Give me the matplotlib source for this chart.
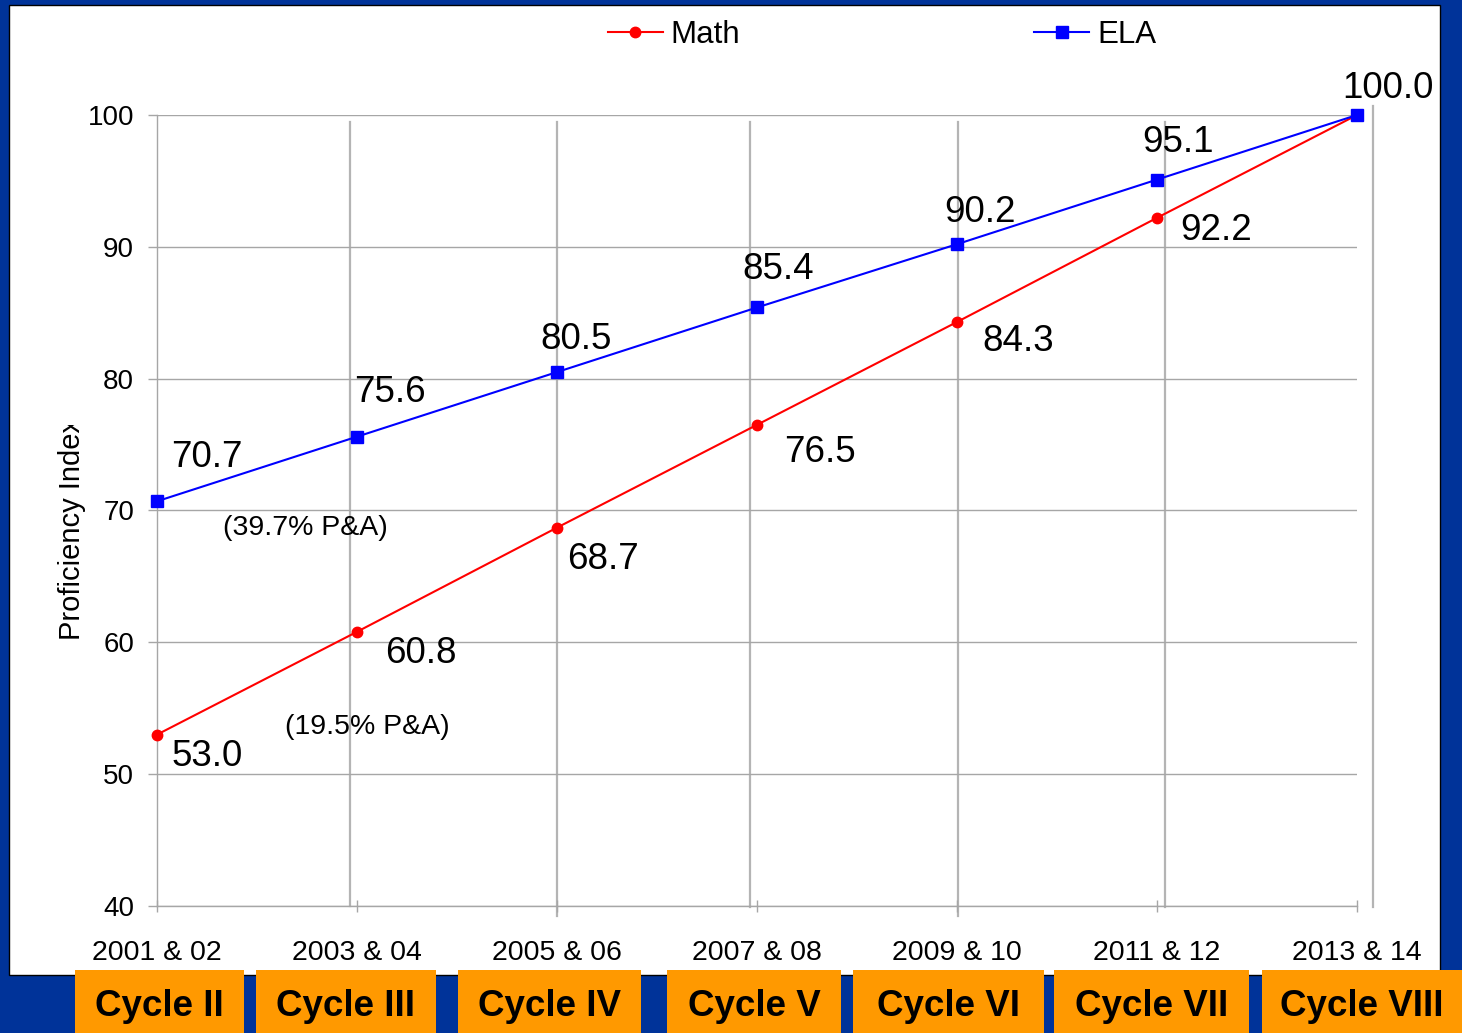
#!/bin/python3
# -*- coding: utf-8 -*-
"""
Proficiency index targets, Math vs ELA, by testing cycle.
"""

#################################################
#     Libraries
#################################################
import matplotlib
matplotlib.use( "Agg" )
import matplotlib.pyplot as plt
from matplotlib.patches import Rectangle
from matplotlib.lines import Line2D
from matplotlib.transforms import Bbox, TransformedBbox

#################################################
#     Data
#################################################
years = [ "2001 & 02", "2003 & 04", "2005 & 06", "2007 & 08", "2009 & 10", "2011 & 12", "2013 & 14" ]
cycles = [ "Cycle II", "Cycle III", "Cycle IV", "Cycle V", "Cycle VI", "Cycle VII", "Cycle VIII" ]
math_values = [ 53.0, 60.8, 68.7, 76.5, 84.3, 92.2, 100.0 ]
ela_values = [ 70.7, 75.6, 80.5, 85.4, 90.2, 95.1, 100.0 ]
math_note = "(19.5% P&A)"
ela_note = "(39.7% P&A)"

#################################################
#     Style
#################################################
W, H = 1462, 1033
BLUE_BG = "#003399"
ORANGE = "#FF9900"
GRID = "#A6A6A6"
plt.rcParams[ "font.family" ] = [ "Liberation Sans", "DejaVu Sans" ]

# label offsets in pixels ( dx, dy ) relative to each point
ela_offsets = [ ( 50, 44 ), ( 33, 44 ), ( 19, 33 ), ( 21, 38 ), ( 23, 32 ), ( 21, 37 ), ( 31, 27 ) ]
math_offsets = [ ( 50, -22 ), ( 64, -22 ), ( 46, -32 ), ( 63, -28 ), ( 61, -20 ), ( 59, -13 ) ]

def fx( px ):
    return px / W

def fy( py ):
    return 1 - py / H

#################################################
#     Figure and background
#################################################
fig = plt.figure( figsize = ( W / 100, H / 100 ), dpi = 100, facecolor = BLUE_BG )
fig.patches.append( Rectangle( ( fx( 9 ), fy( 975 ) ), fx( 1440 - 9 ), ( 975 - 5 ) / H,
                               transform = fig.transFigure, facecolor = "white",
                               edgecolor = "black", linewidth = 1, zorder = -2 ) )

ax = fig.add_axes( [ fx( 157 ), fy( 906 ), fx( 1200 ), 791 / H ] )
ax.set_facecolor( "none" )

x = list( range( len( years ) ) )
ax.plot( x, math_values, "-o", color = "red", lw = 1.5, markersize = 7.5, label = "Math", zorder = 3, clip_on = False )
ax.plot( x, ela_values, "-s", color = "blue", lw = 1.5, markersize = 8, label = "ELA", zorder = 4, clip_on = False )

ax.set_xlim( 0, len( years ) - 1 )
ax.set_ylim( 40, 100 )
ax.set_yticks( range( 40, 101, 10 ) )
ax.set_xticks( x )
ax.set_xticklabels( years )
ax.grid( axis = "y", color = GRID, lw = 1 )
ax.set_axisbelow( True )

for side in [ "top", "right" ]:
    ax.spines[ side ].set_visible( False )
for side in [ "left", "bottom" ]:
    ax.spines[ side ].set_color( GRID )
    ax.spines[ side ].set_linewidth( 1 )

ax.tick_params( axis = "y", colors = GRID, labelcolor = "black", labelsize = 20, length = 6.5, width = 1, pad = 10 )
ax.tick_params( axis = "x", colors = GRID, labelcolor = "black", labelsize = 20.5, length = 8.5, width = 1,
                direction = "inout", pad = 20 )

# data labels
for i, ( v, off ) in enumerate( zip( ela_values, ela_offsets ) ):
    ax.annotate( "{:.1f}".format( v ), ( i, v ), xytext = off, textcoords = "offset pixels",
                 ha = "center", va = "center", fontsize = 26.5, zorder = 5 )
for i, ( v, off ) in enumerate( zip( math_values[ :-1 ], math_offsets ) ):
    ax.annotate( "{:.1f}".format( v ), ( i, v ), xytext = off, textcoords = "offset pixels",
                 ha = "center", va = "center", fontsize = 26.5, zorder = 5 )

fig.text( fx( 305 ), fy( 528 ), ela_note, ha = "center", va = "center", fontsize = 20.5 )
fig.text( fx( 367 ), fy( 727 ), math_note, ha = "center", va = "center", fontsize = 20.5 )

# y label, cut off at the top as in the slide
ylab = fig.text( fx( 72 ), fy( 529 ), "Proficiency Index", rotation = 90, ha = "center", va = "center", fontsize = 21 )
ylab.set_clip_box( TransformedBbox( Bbox( [ [ 0, 0 ], [ 1, fy( 425 ) ] ] ), fig.transFigure ) )
ylab.set_clip_on( True )

# hand drawn vertical guide lines
for xp, y0, y1 in [ ( 350, 122, 906 ), ( 557, 122, 916 ), ( 750, 122, 907 ), ( 958, 122, 916 ), ( 1165, 122, 907 ), ( 1373, 106, 907 ) ]:
    fig.add_artist( Line2D( [ fx( xp ), fx( xp ) ], [ fy( y0 ), fy( y1 ) ], transform = fig.transFigure,
                            color = "#B4B4B4", lw = 1.6, zorder = -1 ) )

# legend
fig.legend( loc = "center left", bbox_to_anchor = ( fx( 608 ), fy( 35 ) ), ncol = 2, frameon = False,
            fontsize = 22.5, handlelength = 1.75, handletextpad = 0.26, columnspacing = 9.4,
            borderpad = 0, borderaxespad = 0 )

#################################################
#     Cycle boxes
#################################################
boxes = [ ( 75, 244 ), ( 256, 436 ), ( 458, 641 ), ( 667, 841 ), ( 853, 1044 ), ( 1054, 1249 ), ( 1262, 1462 ) ]
for name, ( x0, x1 ) in zip( cycles, boxes ):
    fig.patches.append( Rectangle( ( fx( x0 ), 0 ), fx( x1 - x0 ), ( H - 970 ) / H, transform = fig.transFigure,
                                   facecolor = ORANGE, edgecolor = "none", zorder = 2 ) )
    fig.text( fx( ( x0 + x1 ) / 2 ), fy( 1006 ), name, ha = "center", va = "center",
              fontsize = 26.5, fontweight = "bold", zorder = 3 )

fig.savefig( "out.png", dpi = 100, facecolor = BLUE_BG )
